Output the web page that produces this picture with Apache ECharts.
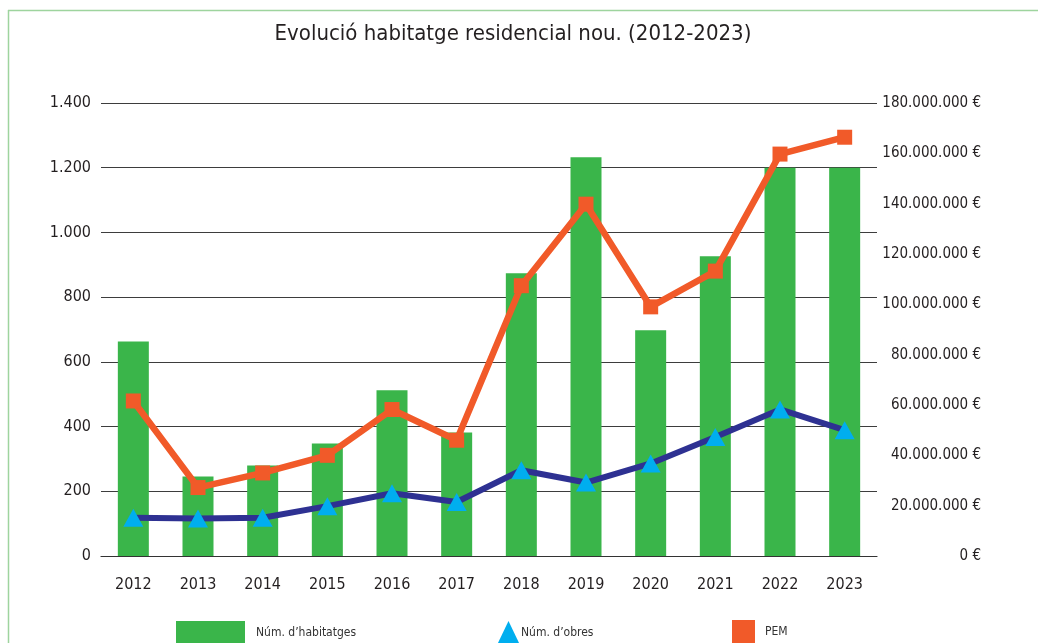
<!DOCTYPE html>
<html>
<head>
<meta charset="utf-8">
<script src="https://cdn.jsdelivr.net/npm/echarts@6/dist/echarts.min.js"></script>
<style>
  html, body { margin: 0; padding: 0; background: #fff; }
  #main { width: 1038px; height: 643px; }
</style>
</head>
<body>
<div id="main"></div>
<script>
var years = ['2012', '2013', '2014', '2015', '2016', '2017', '2018', '2019', '2020', '2021', '2022', '2023'];
// Núm. d’habitatges (left axis)
var habitatges = [663, 246, 280, 348, 512, 382, 874, 1232, 698, 926, 1200, 1200];
// Núm. d’obres (left axis)
var obres = [118, 116, 118, 154, 194, 167, 265, 227, 286, 368, 453, 389];
// PEM in euros (right axis)
var pem = [61600000, 27200000, 33000000, 40000000, 58200000, 46000000, 107400000, 139800000, 99000000, 113200000, 159700000, 166400000];

var FONT = "'DejaVu Sans Condensed', 'Liberation Sans Narrow', 'Liberation Sans', sans-serif";

function dots(n) {
  return String(Math.round(n)).replace(/\B(?=(\d{3})+(?!\d))/g, '.');
}

var chartDom = document.getElementById('main');
var myChart = echarts.init(chartDom);
var option;

option = {
  animation: false,
  textStyle: { fontFamily: FONT },
  title: {
    text: 'Evolució habitatge residencial nou. (2012-2023)',
    left: 508,
    textAlign: 'center',
    top: 18,
    textStyle: { fontFamily: FONT, fontSize: 22, fontWeight: 'normal', color: '#231f20' }
  },
  graphic: [
    { type: 'line', shape: { x1: 8, y1: 10.5, x2: 1038, y2: 10.5 }, style: { stroke: '#9ed49e', lineWidth: 1.5 } },
    { type: 'line', shape: { x1: 8.5, y1: 10, x2: 8.5, y2: 643 }, style: { stroke: '#9ed49e', lineWidth: 1.5 } }
  ],
  legend: [
    {
      left: 176, top: 621, padding: 0, itemWidth: 69, itemHeight: 24, itemGap: 0,
      data: [{ name: 'Núm. d’habitatges', icon: 'rect' }],
      textStyle: { fontFamily: FONT, fontSize: 12, color: '#333', padding: [0, 0, 0, 6] }
    },
    {
      left: 497, top: 621, padding: 0, itemWidth: 23, itemHeight: 24, itemGap: 0,
      data: [{ name: 'Núm. d’obres', icon: 'triangle' }],
      textStyle: { fontFamily: FONT, fontSize: 12, color: '#333', padding: [0, 0, 0, -4] }
    },
    {
      left: 732, top: 620, padding: 0, itemWidth: 23, itemHeight: 24, itemGap: 0,
      data: [{ name: 'PEM', icon: 'rect' }],
      textStyle: { fontFamily: FONT, fontSize: 12, color: '#333', padding: [0, 0, 0, 5] }
    }
  ],
  grid: { left: 101, right: 161, top: 103, bottom: 87 },
  xAxis: {
    type: 'category',
    data: years,
    axisTick: { show: false },
    axisLine: { lineStyle: { color: '#333', width: 1.2 } },
    axisLabel: { color: '#231f20', fontSize: 16, margin: 21 }
  },
  yAxis: [
    {
      type: 'value',
      min: 0,
      max: 1400,
      interval: 200,
      axisLine: { show: false },
      axisTick: { show: false },
      splitLine: { lineStyle: { color: '#3d3d3d', width: 1.2 } },
      axisLabel: {
        color: '#231f20', fontSize: 16, margin: 10,
        formatter: function (v) { return dots(v); }
      }
    },
    {
      type: 'value',
      min: 0,
      max: 180000000,
      interval: 20000000,
      position: 'right',
      axisLine: { show: false },
      axisTick: { show: false },
      splitLine: { show: false },
      axisLabel: {
        color: '#231f20', fontSize: 15, margin: 104, align: 'right',
        formatter: function (v) { return dots(v) + ' €'; }
      }
    }
  ],
  series: [
    {
      name: 'Núm. d’habitatges',
      type: 'bar',
      barWidth: 31,
      itemStyle: { color: '#3ab54a' },
      data: habitatges,
      z: 2
    },
    {
      name: 'Núm. d’obres',
      type: 'line',
      yAxisIndex: 0,
      symbol: 'triangle',
      symbolSize: [20, 18],
      lineStyle: { color: '#2e3192', width: 6 },
      itemStyle: { color: '#00aeef' },
      data: obres,
      z: 3
    },
    {
      name: 'PEM',
      type: 'line',
      yAxisIndex: 1,
      symbol: 'rect',
      symbolSize: 15,
      lineStyle: { color: '#f15a29', width: 6.5 },
      itemStyle: { color: '#f15a29' },
      data: pem,
      z: 4
    }
  ]
};

option && myChart.setOption(option);
</script>
</body>
</html>
